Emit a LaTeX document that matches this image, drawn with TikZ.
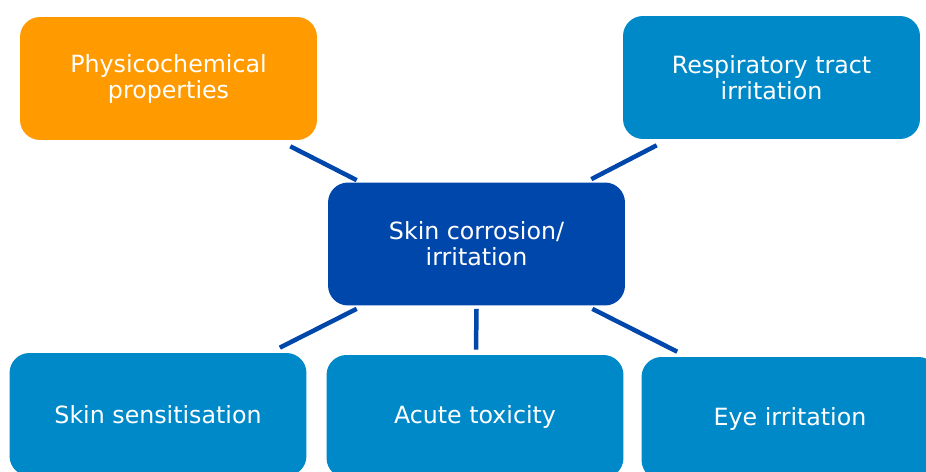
\documentclass[tikz,border=0pt]{standalone}
\usepackage{fontspec}
\setmainfont{DejaVu Sans}
\usepackage{xcolor}
\usetikzlibrary{calc}
\definecolor{hubblue}{HTML}{0047AB}
\definecolor{boxblue}{HTML}{0089C8}
\definecolor{boxorange}{HTML}{FF9A00}
\begin{document}
\begin{tikzpicture}[x=0.02cm, y=-0.02cm,
		topic/.style={rounded corners=0.4cm, minimum width=5.94cm, minimum height=2.46cm,
			text=white, align=center, font=\fontsize{13.5}{14.8}\selectfont, inner sep=0pt},
		link/.style={line width=0.09cm, hubblue}]
		
		% 1. fester Rahmen (Bildausschnitt)
		\useasboundingbox (0,0) rectangle (926,472);
		
		% 2. zentrales Thema
		\node[topic, fill=hubblue] (hub) at (476.5,244) {Skin corrosion/\\irritation};
		
		% 3. Nachbarthemen oben
		\node[topic, fill=boxorange] (phys) at (168.5,78.5) {Physicochemical\\properties};
		\node[topic, fill=boxblue] (resp) at (771.5,77.5) {Respiratory tract\\irritation};
		
		% 4. Nachbarthemen unten (am Bildrand abgeschnitten)
		\node[topic, fill=boxblue] (sens) at (158,414.5) {Skin sensitisation};
		\node[topic, fill=boxblue] (tox) at (475,416.5) {Acute toxicity};
		\node[topic, fill=boxblue] (eye) at (790,418.5) {Eye irritation};
		
		% 5. Verbindungen (mit Abstand zu den Kästen)
		\draw[link] ($(phys.south east)+(-27,6)$) -- ($(hub.north west)+(29,-2)$);
		\draw[link] ($(resp.south west)+(34,6)$) -- ($(hub.north east)+(-34,-3)$);
		\draw[link] ($(hub.south west)+(29,3)$) -- ($(sens.north east)+(-27,-5)$);
		\draw[link] ($(hub.south)+(0,3)$) -- ($(tox.north)+(1,-5)$);
		\draw[link] ($(hub.south east)+(-33,3)$) -- ($(eye.north west)+(36,-5)$);
		
	\end{tikzpicture}
\end{document}
